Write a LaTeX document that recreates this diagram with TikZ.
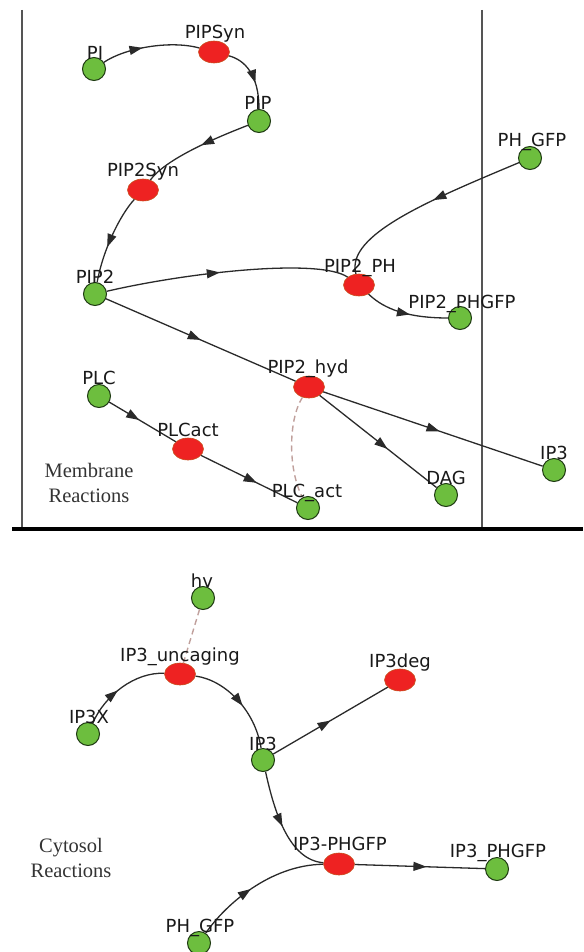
\documentclass[tikz,border=0pt]{standalone}
\usepackage{fontspec}
\setmainfont{Liberation Serif}
\newfontfamily\labfont{DejaVu Sans}
\usetikzlibrary{arrows.meta,shapes.geometric,decorations.markings}
\definecolor{gfill}{HTML}{6DBE3E}
\definecolor{gline}{HTML}{1E3A12}
\definecolor{rfill}{HTML}{EE2222}
\definecolor{rline}{HTML}{C8501E}
\definecolor{eline}{HTML}{2A2A2A}
\definecolor{dline}{HTML}{C0A09C}
\definecolor{framec}{HTML}{555555}
\tikzset{
 sp/.style={circle, fill=gfill, draw=gline, line width=1pt, minimum size=23pt, inner sep=0pt},
 rx/.style={ellipse, fill=rfill, draw=rline, line width=0.6pt, minimum width=31pt, minimum height=22pt, inner sep=0pt},
 lab/.style={anchor=base, inner sep=0pt, font=\labfont\fontsize{18}{20}\selectfont, text=black!90},
 note/.style={anchor=base, inner sep=0pt, font=\fontsize{20.5}{25}\selectfont, text=black!80},
 edge/.style={draw=eline, line width=1.3pt},
 marr/.style={postaction={decorate}, decoration={markings, mark=at position #1 with {\arrow{Triangle[length=13pt,width=9pt]}}}},
 modif/.style={draw=dline, line width=1.4pt, dash pattern=on 6pt off 4pt},
 framev/.style={draw=framec, line width=2pt},
 frameh/.style={draw=black, line width=4pt},
}
\begin{document}
\begin{tikzpicture}[x=1pt,y=-1pt]
\useasboundingbox (0,0) rectangle (583,952);
% frame lines
\coordinate (lt) at (22,10); \coordinate (lb) at (22,527);
\coordinate (rt) at (482,10); \coordinate (rb) at (482,527);
\coordinate (hl) at (12,529); \coordinate (hr) at (583,529);
\draw[framev] (lt) -- (lb);
\draw[framev] (rt) -- (rb);
\draw[frameh] (hl) -- (hr);
% species and reactions (membrane)
\node[sp] (PI) at (94,69) {};
\node[rx] (PIPSyn) at (214,52) {};
\node[sp] (PIP) at (259,121) {};
\node[rx] (PIP2Syn) at (143,190) {};
\node[sp] (PIP2) at (95,294) {};
\node[sp] (PHGFPa) at (530,158) {};
\node[rx] (PIP2PH) at (359,285) {};
\node[sp] (PIP2PHGFP) at (460,318) {};
\node[sp] (PLC) at (99,396) {};
\node[rx] (PLCact) at (188,449) {};
\node[rx] (PIP2hyd) at (309,387) {};
\node[sp] (PLCa) at (308,508) {};
\node[sp] (DAG) at (446,495) {};
\node[sp] (IP3m) at (554,470) {};
% cytosol
\node[sp] (hv) at (203,598) {};
\node[rx] (IP3unc) at (180,674) {};
\node[sp] (IP3X) at (88,734) {};
\node[sp] (IP3c) at (263,760) {};
\node[rx] (IP3deg) at (400,680) {};
\node[rx] (IP3PHr) at (339,864) {};
\node[sp] (IP3PHg) at (497,869) {};
\node[sp] (PHGFPb) at (199,943) {};
% edges membrane
\draw[edge, marr=0.42] (PI) .. controls (125,48) and (170,40) .. (PIPSyn);
\draw[edge, marr=0.6] (PIPSyn) .. controls (245,60) and (259,75) .. (PIP);
\draw[edge, marr=0.45] (PIP) .. controls (210,140) and (165,160) .. (PIP2Syn);
\draw[edge, marr=0.6] (PIP2Syn) .. controls (120,215) and (103,250) .. (PIP2);
\draw[edge, marr=0.47] (PIP2) .. controls (190,272) and (320,258) .. (PIP2PH);
\draw[edge, marr=0.45] (PHGFPa) .. controls (430,200) and (345,235) .. (PIP2PH);
\draw[edge, marr=0.55] (PIP2PH) .. controls (380,305) and (400,318) .. (PIP2PHGFP);
\draw[edge, marr=0.5] (PIP2) -- (PIP2hyd);
\draw[edge, marr=0.45] (PLC) -- (PLCact);
\draw[edge, marr=0.58] (PLCact) -- (PLCa);
\draw[edge, marr=0.58] (PIP2hyd) -- (DAG);
\draw[edge, marr=0.53] (PIP2hyd) -- (IP3m);
\draw[modif] (PIP2hyd) .. controls (288,420) and (288,470) .. (PLCa);
% edges cytosol
\draw[modif] (hv) -- (IP3unc);
\draw[edge, marr=0.45] (IP3X) .. controls (105,695) and (135,672) .. (IP3unc);
\draw[edge, marr=0.55] (IP3unc) .. controls (225,680) and (255,710) .. (IP3c);
\draw[edge, marr=0.5] (IP3c) -- (IP3deg);
\draw[edge, marr=0.5] (IP3c) .. controls (275,815) and (290,860) .. (IP3PHr);
\draw[edge, marr=0.45] (PHGFPb) .. controls (225,905) and (270,865) .. (IP3PHr);
\draw[edge, marr=0.55] (IP3PHr) -- (IP3PHg);
% labels
\node[lab] (tPI) at (95,60) {PI};
\node[lab] (tPIPSyn) at (215,39) {PIPSyn};
\node[lab] (tPIP) at (258,110) {PIP};
\node[lab] (tPIP2Syn) at (143,177) {PIP2Syn};
\node[lab] (tPIP2) at (95,283) {PIP2};
\node[lab] (tPHGFPa) at (532,147) {PH\_GFP};
\node[lab] (tPIP2PH) at (360,272) {PIP2\_PH};
\node[lab] (tPIP2PHGFP) at (462,308) {PIP2\_PHGFP};
\node[lab] (tPLC) at (99,384) {PLC};
\node[lab] (tPLCact) at (188,436) {PLCact};
\node[lab] (tPIP2hyd) at (308,373) {PIP2\_hyd};
\node[lab] (tPLCa) at (307,497) {PLC\_act};
\node[lab] (tDAG) at (446,484) {DAG};
\node[lab] (tIP3m) at (554,459) {IP3};
\node[lab] (thv) at (202,587) {hv};
\node[lab] (tIP3unc) at (180,661) {IP3\_uncaging};
\node[lab] (tIP3X) at (89,723) {IP3X};
\node[lab] (tIP3c) at (263,750) {IP3};
\node[lab] (tIP3deg) at (400,667) {IP3deg};
\node[lab] (tIP3PHr) at (340,850) {IP3-PHGFP};
\node[lab] (tIP3PHg) at (498,857) {IP3\_PHGFP};
\node[lab] (tPHGFPb) at (200,932) {PH\_GFP};
\node[note] (memb1) at (89,477) {Membrane};
\node[note] (memb2) at (89,502) {Reactions};
\node[note] (cyto1) at (71,852) {Cytosol};
\node[note] (cyto2) at (71,877) {Reactions};
\end{tikzpicture}
\end{document}
